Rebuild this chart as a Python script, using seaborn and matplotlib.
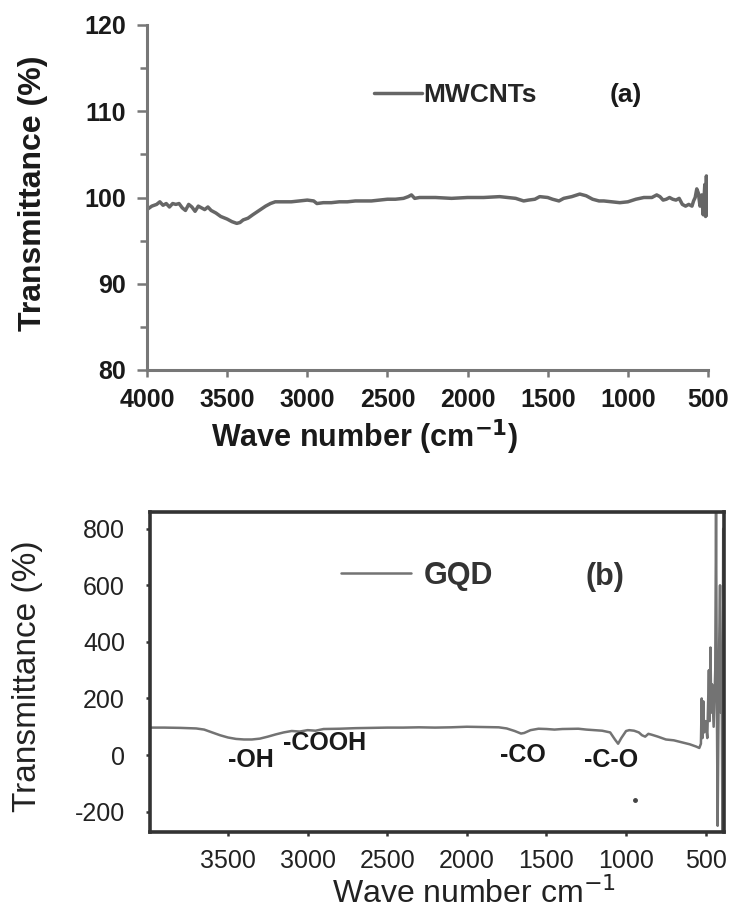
import matplotlib
matplotlib.use("Agg")
import matplotlib.pyplot as plt
import seaborn as sns
import pandas as pd
from matplotlib.ticker import MultipleLocator, FixedLocator

# ---------------- data ----------------
mw_wn = [4000, 3970, 3940, 3920, 3900, 3880, 3860, 3840, 3820, 3800, 3780, 3760, 3740, 3720,
         3700, 3680, 3660, 3640, 3620, 3600, 3570, 3540, 3500, 3470, 3440, 3420, 3400, 3370,
         3340, 3300, 3260, 3230, 3200, 3150, 3100, 3050, 3000, 2960, 2940, 2900, 2850, 2800,
         2750, 2700, 2650, 2600, 2550, 2500, 2450, 2400, 2370, 2350, 2330, 2300, 2200, 2100,
         2000, 1900, 1800, 1750, 1700, 1650, 1620, 1580, 1550, 1500, 1470, 1430, 1400, 1350,
         1300, 1260, 1220, 1180, 1150, 1100, 1050, 1000, 950, 900, 850, 820, 800, 780, 760,
         740, 720, 700, 680, 660, 640, 620, 600, 590, 580, 570, 560, 550, 540, 530, 520, 515,
         510, 505, 500]
mw_t = [98.6, 99.0, 99.2, 99.5, 99.1, 99.3, 98.9, 99.3, 99.2, 99.3, 98.8, 98.5, 99.2, 98.9,
        98.4, 99.0, 98.8, 98.6, 98.9, 98.5, 98.2, 97.8, 97.5, 97.2, 97.0, 97.1, 97.4, 97.6,
        98.0, 98.5, 99.0, 99.3, 99.5, 99.5, 99.5, 99.6, 99.7, 99.6, 99.3, 99.4, 99.4, 99.5,
        99.5, 99.6, 99.6, 99.6, 99.7, 99.8, 99.8, 99.9, 100.1, 100.3, 99.9, 100.0, 100.0, 99.9,
        100.0, 100.0, 100.1, 100.0, 99.9, 99.6, 99.7, 99.8, 100.1, 100.0, 99.8, 99.6, 99.9, 100.1,
        100.4, 100.2, 99.8, 99.6, 99.6, 99.5, 99.4, 99.5, 99.8, 100.0, 100.0, 100.3, 100.1, 99.7, 99.8,
        100.0, 99.8, 99.7, 99.9, 99.2, 99.0, 99.2, 99.0, 99.6, 100.0, 101.0, 100.5, 99.0, 100.3, 98.0, 101.5, 97.8,
        102.5, 98.0, 99.0]

gqd_wn = [4000, 3900, 3800, 3700, 3650, 3600, 3550, 3500, 3450, 3400, 3350, 3300, 3250, 3200,
          3150, 3100, 3050, 3000, 2950, 2900, 2800, 2700, 2600, 2500, 2400, 2300, 2200, 2100,
          2000, 1900, 1800, 1750, 1700, 1660, 1640, 1600, 1550, 1500, 1450, 1400, 1300, 1250,
          1200, 1150, 1100, 1070, 1050, 1030, 1000, 980, 950, 920, 900, 880, 860, 840, 800,
          750, 700, 650, 600, 560, 540, 530, 525, 520, 515, 510, 500, 490, 480, 475, 470, 465,
          460, 450, 440, 435, 430, 425, 420, 415, 410, 405, 400, 395, 390]
gqd_t = [97, 97, 96, 94, 90, 80, 70, 62, 57, 55, 55, 58, 65, 73,
         80, 85, 83, 88, 86, 92, 93, 95, 96, 97, 97, 98, 97, 98,
         100, 99, 98, 94, 85, 76, 78, 88, 93, 92, 90, 92, 93, 90,
         88, 86, 80, 55, 40, 60, 85, 88, 86, 80, 70, 65, 75, 72, 65,
         55, 52, 45, 38, 30, 25, 40, 200, 60, 190, 80, 120, 60, 300, 120, 380, 150,
         250, 100, 300, 860, 200, -250, 100, 400, 600, 150, 300, -270, 800]

top_xticks = [4000, 3500, 3000, 2500, 2000, 1500, 1000, 500]
top_yticks = [80, 90, 100, 110, 120]
bot_xticks = [3500, 3000, 2500, 2000, 1500, 1000, 500]
bot_yticks = [-200, 0, 200, 400, 600, 800]

annotations = ["-OH", "-COOH", "-CO", "-C-O"]
annot_x = [3356, 2892, 1649, 1096]
annot_y = [-18, 42, 0, -18]

df_mw = pd.DataFrame({"wn": mw_wn, "T": mw_t})
df_gqd = pd.DataFrame({"wn": gqd_wn, "T": gqd_t})

# ---------------- style ----------------
sns.set_style("white")
plt.rcParams["font.family"] = ["Liberation Sans", "DejaVu Sans"]

W, H = 729, 909
fig = plt.figure(figsize=(W / 100, H / 100), dpi=100)

def box(l, t, r, b):
    return [l / W, 1 - b / H, (r - l) / W, (b - t) / H]

# ---------------- top panel ----------------
ax1 = fig.add_axes(box(147, 25, 708, 370))
sns.lineplot(data=df_mw, x="wn", y="T", ax=ax1, color="#666666", linewidth=2.5,
             label="MWCNTs", estimator=None)
ax1.set_xlim(4000, 500)
ax1.set_ylim(80, 120)
ax1.xaxis.set_major_locator(FixedLocator(top_xticks))
ax1.yaxis.set_major_locator(FixedLocator(top_yticks))
ax1.yaxis.set_minor_locator(MultipleLocator(5))
ax1.set_xticklabels([str(v) for v in top_xticks], fontsize=18, fontweight="bold", color="#1a1a1a")
ax1.set_yticklabels([str(v) for v in top_yticks], fontsize=18, fontweight="bold", color="#1a1a1a")
for s in ["top", "right"]:
    ax1.spines[s].set_visible(False)
for s in ["left", "bottom"]:
    ax1.spines[s].set_color("#777777")
    ax1.spines[s].set_linewidth(2.2)
ax1.tick_params(axis="y", which="major", direction="out", length=7, width=1.8, pad=8, color="#777777", left=True)
ax1.tick_params(axis="y", which="minor", direction="out", length=5, width=1.8, color="#777777", left=True)
ax1.tick_params(axis="x", which="major", direction="out", length=5, width=1.8, pad=8, color="#777777", bottom=True)
ax1.set_xlabel("Wave number (cm$^{\\mathbf{-1}}$)", fontsize=22, fontweight="bold", color="#1a1a1a")
ax1.xaxis.set_label_coords((365 - 147) / 561, (370 - 437) / 345)
ax1.xaxis.label.set_va("center")
ax1.set_ylabel("Transmittance (%)", fontsize=23, fontweight="bold", color="#1a1a1a")
ax1.yaxis.set_label_coords((33 - 147) / 561, (370 - 193) / 345)
ax1.yaxis.label.set_va("center")
ax1.legend(loc="center left", bbox_to_anchor=((374 - 147) / 561, (370 - 95) / 345),
           frameon=False, borderpad=0, borderaxespad=0, handlelength=1.8, handletextpad=0.05,
           prop={"size": 19, "weight": "bold"})
ax1.text(1012, 111.9, "(a)", fontsize=19, fontweight="bold", ha="center", va="center", color="#1a1a1a")

# ---------------- bottom panel ----------------
ax2 = fig.add_axes(box(150, 512, 724, 832))
sns.lineplot(data=df_gqd, x="wn", y="T", ax=ax2, color="#737373", linewidth=1.8,
             label="GQD", estimator=None)
ax2.set_xlim(3990, 385)
ax2.set_ylim(-272, 859)
ax2.xaxis.set_major_locator(FixedLocator(bot_xticks))
ax2.yaxis.set_major_locator(FixedLocator(bot_yticks))
ax2.set_xticklabels([str(v) for v in bot_xticks], fontsize=18, color="#222222")
ax2.set_yticklabels([str(v) for v in bot_yticks], fontsize=18, color="#222222")
for s in ax2.spines.values():
    s.set_color("#333333")
    s.set_linewidth(2.6)
ax2.tick_params(axis="both", direction="out", length=3, width=1.8, color="#333333",
                left=True, bottom=True)
ax2.tick_params(axis="x", pad=9)
ax2.tick_params(axis="y", pad=15)
ax2.set_xlabel("Wave number cm$^{-1}$", fontsize=23, color="#222222")
ax2.xaxis.set_label_coords((474 - 150) / 574, (832 - 894) / 320)
ax2.xaxis.label.set_va("center")
ax2.set_ylabel("Transmittance (%)", fontsize=24, color="#222222")
ax2.yaxis.set_label_coords((28 - 150) / 574, (832 - 676) / 320)
ax2.yaxis.label.set_va("center")
ax2.legend(loc="center left", bbox_to_anchor=((341 - 150) / 574, (832 - 576) / 320),
           frameon=False, borderpad=0, borderaxespad=0, handlelength=2.3, handletextpad=0.4,
           prop={"size": 22, "weight": "bold"})
for lg in ax2.get_legend().get_texts():
    lg.set_color("#333333")
ax2.text(1134, 629, "(b)", fontsize=22, fontweight="bold", ha="center", va="center", color="#333333")
for t, x, y in zip(annotations, annot_x, annot_y):
    ax2.text(x, y, t, fontsize=18, fontweight="bold", ha="center", va="center", color="#1a1a1a")
ax2.plot([945], [-159], marker="o", markersize=2.5, color="#444444")

fig.savefig("out.png", dpi=100)
